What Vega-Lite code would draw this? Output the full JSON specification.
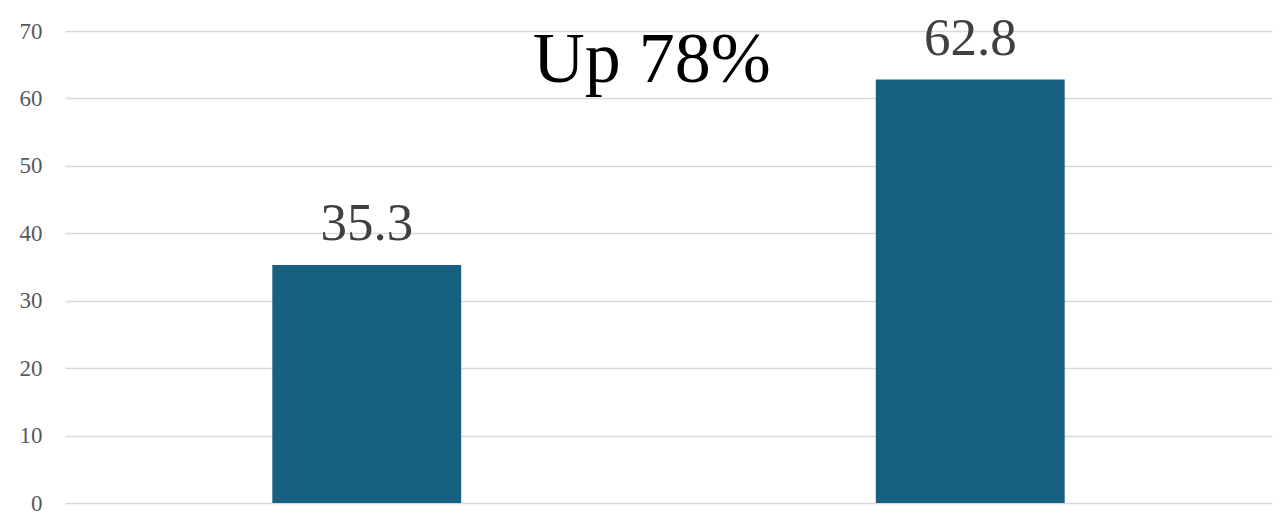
{
  "$schema": "https://vega.github.io/schema/vega-lite/v6.json",
  "width": 1207,
  "height": 472,
  "autosize": {"type": "none"},
  "padding": {"left": 65, "top": 31, "right": 9, "bottom": 10},
  "background": "#ffffff",
  "config": {"view": {"stroke": null}},
  "datasets": {
    "bars": [
      {"period": "Before", "value": 35.3},
      {"period": "After", "value": 62.8}
    ],
    "note": [
      {"period": "Before", "value": 62.4, "label": "Up 78%"}
    ]
  },
  "layer": [
    {
      "data": {"name": "bars"},
      "mark": {"type": "bar", "color": "#18607F"},
      "encoding": {
        "x": {
          "field": "period", "type": "nominal", "sort": null,
          "scale": {"paddingInner": 0.687, "paddingOuter": 0.3435},
          "axis": null
        },
        "y": {
          "field": "value", "type": "quantitative",
          "scale": {"domain": [0, 70], "nice": false},
          "axis": {
            "title": null, "values": [0, 10, 20, 30, 40, 50, 60, 70],
            "domain": false, "ticks": false,
            "labelFont": "Liberation Serif", "labelFontSize": 23, "labelColor": "#595959",
            "labelPadding": 23,
            "gridColor": "#d9d9d9", "gridWidth": 1.5
          }
        }
      }
    },
    {
      "data": {"name": "bars"},
      "mark": {"type": "text", "font": "Liberation Serif", "fontSize": 53, "color": "#404040", "baseline": "alphabetic", "align": "center", "dy": -25},
      "encoding": {
        "x": {"field": "period", "type": "nominal", "sort": null},
        "y": {"field": "value", "type": "quantitative"},
        "text": {"field": "value", "type": "quantitative", "format": ".1f"}
      }
    },
    {
      "data": {"name": "note"},
      "mark": {"type": "text", "font": "Liberation Serif", "fontSize": 72, "color": "#000000", "baseline": "alphabetic", "align": "center", "dx": 285},
      "encoding": {
        "x": {"field": "period", "type": "nominal", "sort": null},
        "y": {"field": "value", "type": "quantitative"},
        "text": {"field": "label", "type": "nominal"}
      }
    }
  ]
}
